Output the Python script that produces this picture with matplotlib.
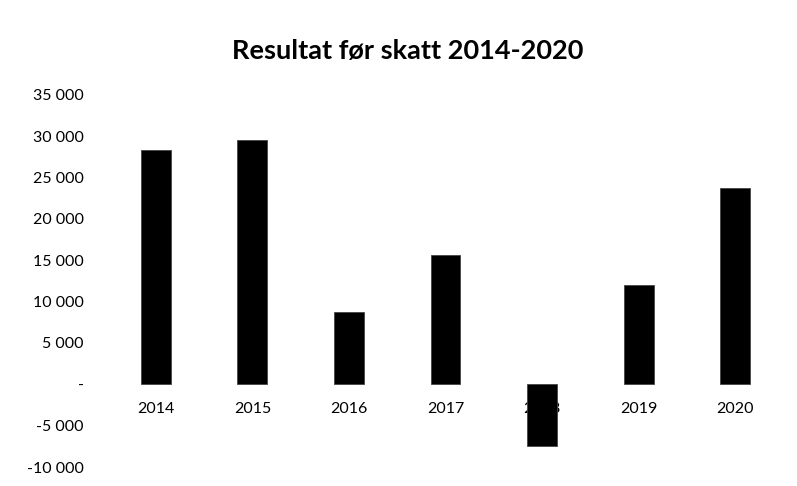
import matplotlib
matplotlib.use("Agg")
import matplotlib.pyplot as plt
from matplotlib.ticker import FuncFormatter, MultipleLocator

plt.rcParams['font.family'] = ['Lato', 'DejaVu Sans']

years = ['2014', '2015', '2016', '2017', '2018', '2019', '2020']
resultat = [28300, 29500, 8700, 15650, -7450, 12000, 23750]

fig = plt.figure(figsize=(7.97, 4.86), dpi=100)
ax = fig.add_axes([0.135, 0.039, 0.848, 0.766])

x = range(len(years))
ax.bar(x, resultat, width=0.31, color='black', edgecolor='#444444', linewidth=0.6,
       zorder=3)

ax.set_xlim(-0.5, len(years) - 0.5)
ax.set_ylim(-10000, 35000)
ax.yaxis.set_major_locator(MultipleLocator(5000))


def fmt(v, pos):
    if abs(v) < 1e-6:
        return '-'
    return f"{int(v):,}".replace(',', ' ')


ax.yaxis.set_major_formatter(FuncFormatter(fmt))
ax.tick_params(axis='y', length=0, pad=17, labelsize=11.5)

# x labels sit just under the zero line
ax.set_xticks([])
for i, yr in enumerate(years):
    ax.annotate(yr, (i, 0), xytext=(0, -17.5), textcoords='offset points',
                ha='center', va='center', fontsize=11.5, zorder=2)

for s in ax.spines.values():
    s.set_visible(False)

fig.suptitle('Resultat før skatt 2014-2020', x=0.511, y=0.92,
             fontsize=19.5, fontweight='bold')

fig.savefig('out.png', dpi=100)
